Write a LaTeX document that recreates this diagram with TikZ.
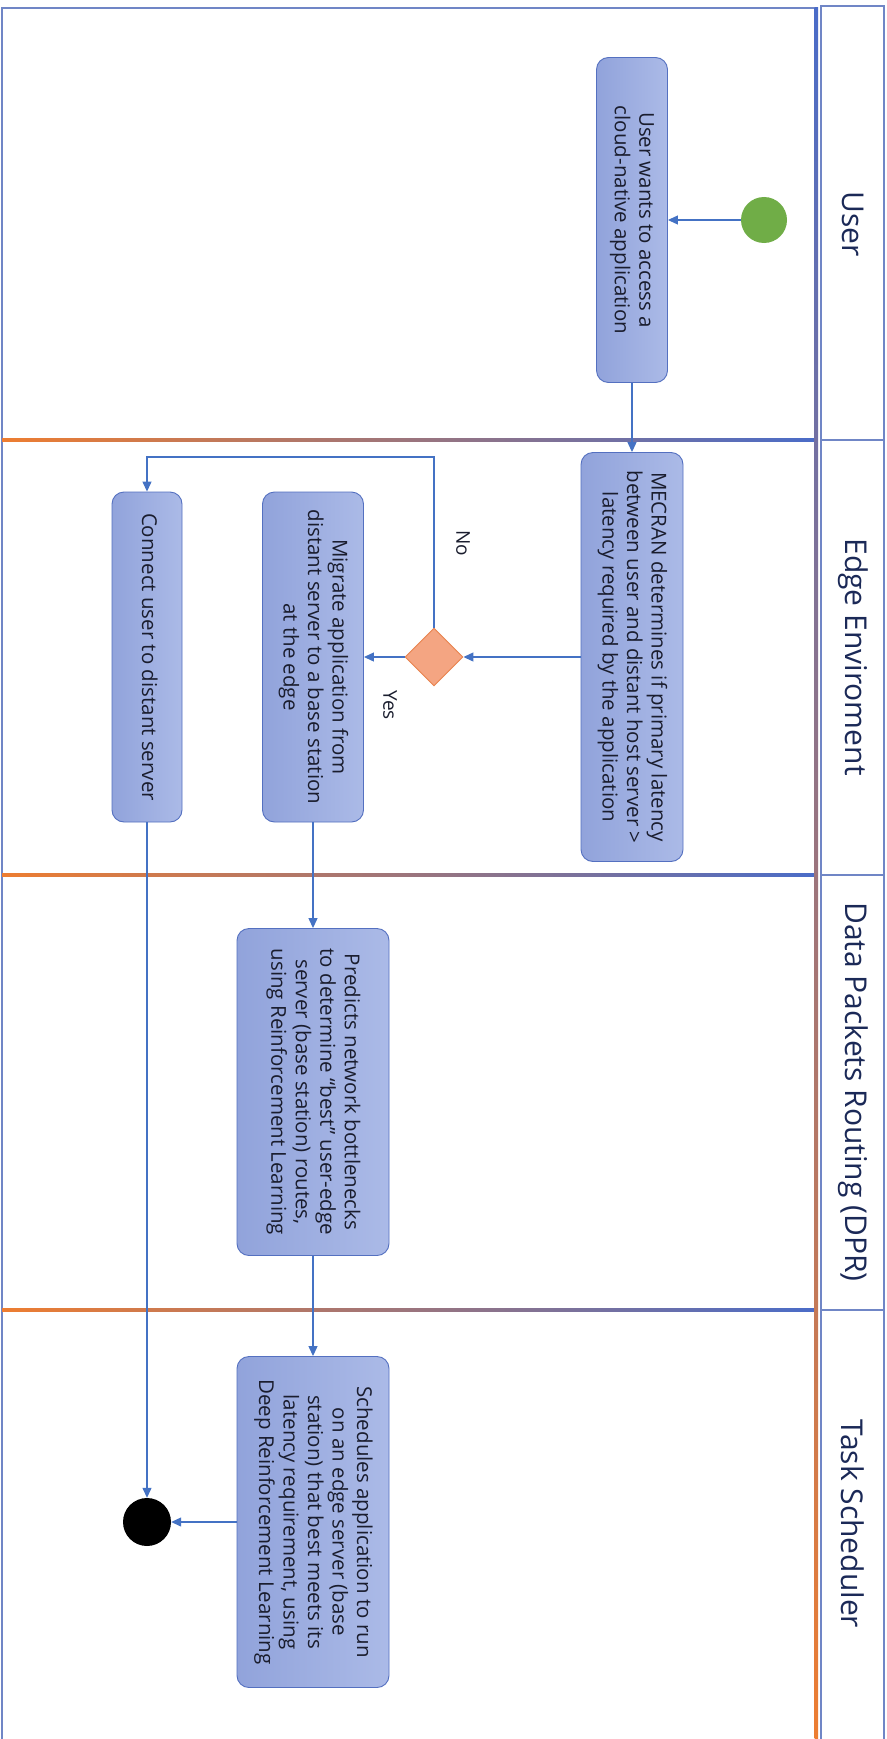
\documentclass[tikz,border=0pt]{standalone}
\usepackage{fontspec}
\setmainfont{Open Sans}
\usepackage{graphicx}
\usetikzlibrary{arrows.meta,shapes.geometric}

\definecolor{flowblue}{HTML}{4472C4}
\definecolor{laneblue}{HTML}{4A6CC8}
\definecolor{laneorange}{HTML}{ED7D31}
\definecolor{framecol}{HTML}{7086C6}
\definecolor{boxedge}{HTML}{5470C0}
\definecolor{boxdark}{HTML}{91A3DB}
\definecolor{boxlight}{HTML}{ABBAE7}
\definecolor{hdrtext}{HTML}{1B2957}
\definecolor{acttext}{HTML}{1A1D2E}
\definecolor{decfill}{HTML}{F4A582}
\definecolor{decedge}{HTML}{E8834E}
\definecolor{startgreen}{HTML}{70AD47}

% multi-line text turned to read from top to bottom
\newcommand{\vtext}[1]{\rotatebox{-90}{\begin{tabular}{@{}c@{}}#1\end{tabular}}}

\begin{document}
\begin{tikzpicture}[x=1pt,y=-1pt,
  frame/.style={draw=framecol,line width=1.1pt},
  hdr/.style={rotate=-90,text=hdrtext,font=\fontsize{30}{36}\selectfont},
  act/.style={draw=boxedge,line width=0.9pt,rounded corners=12pt,
    left color=boxdark,right color=boxlight,inner sep=0pt,text=acttext,
    font=\fontsize{20.5}{24.5}\selectfont},
  dec/.style={diamond,draw=decedge,fill=decfill,line width=0.9pt,
    minimum width=58pt,minimum height=58pt,inner sep=0pt},
  startnode/.style={circle,fill=startgreen,minimum size=46pt,inner sep=0pt},
  endnode/.style={circle,fill=black,minimum size=48pt,inner sep=0pt},
  flow/.style={draw=flowblue,line width=1.2pt,-{Triangle[length=10pt,width=9pt]}},
  lbl/.style={rotate=-90,text=acttext,font=\fontsize{19}{23}\selectfont}]

\useasboundingbox (0,0) rectangle (886,1739);
\fill[white] (0,0) rectangle (886,1739);

% swimlane frame
\draw[frame] (2,1739) -- (2,8) -- (816,8);
\draw[frame] (821,1739) -- (821,6) -- (884,6) -- (884,1739);
\foreach \yy in {440,875,1310}{
  \draw[frame] (821,\yy) -- (884,\yy);
  \shade[left color=laneorange,right color=laneblue] (2,\yy-1.8) rectangle (816,\yy+1.8);
}
\shade[top color=laneblue,bottom color=laneorange] (814.5,8) rectangle (818,1739);

% lane headers
\node[hdr] (hUser) at (853,224) {User};
\node[hdr] (hEdge) at (853,657) {Edge Enviroment};
\node[hdr] (hDPR)  at (853,1092) {Data Packets Routing (DPR)};
\node[hdr] (hTask) at (853,1524) {Task Scheduler};

% activities
\node[startnode] (start) at (764,220) {};
\node[act,minimum width=71pt,minimum height=325pt] (b1) at (632,220)
  {\vtext{User wants to access a\\cloud-native application}};
\node[act,minimum width=102pt,minimum height=409pt] (b2) at (632,657)
  {\vtext{MECRAN determines if primary latency\\between user and distant host server >\\latency required by the application}};
\node[dec] (d1) at (434,657) {};
\node[act,minimum width=101pt,minimum height=330pt] (b3) at (313,657)
  {\vtext{Migrate application from\\distant server to a base station\\at the edge}};
\node[act,minimum width=70pt,minimum height=330pt] (b4) at (147,657)
  {\vtext{Connect user to distant server}};
\node[act,minimum width=152pt,minimum height=327pt] (b5) at (313,1092)
  {\vtext{Predicts network bottlenecks\\to determine “best” user-edge\\server (base station) routes,\\using Reinforcement Learning}};
\node[act,minimum width=152pt,minimum height=331pt] (b6) at (313,1522)
  {\vtext{Schedules application to run\\on an edge server (base\\station) that best meets its\\latency requirement, using\\Deep Reinforcement Learning}};
\node[endnode] (stop) at (147,1522) {};

% connectors
\coordinate (noturn) at (434,457);
\draw[flow] (start.west) -- (b1.east |- start.west);
\draw[flow] (b1.south) -- (b2.north);
\draw[flow] (b2.west) -- (d1.east);
\draw[flow] (d1.west) -- (b3.east);
\draw[flow] (d1.north) -- (noturn) -| (b4.north);
\draw[flow] (b3.south) -- (b5.north);
\draw[flow] (b5.south) -- (b6.north);
\draw[flow] (b4.south) -- (stop.north);
\draw[flow] (b6.west) -- (stop.east);

\node[lbl] (lNo)  at (463,543) {No};
\node[lbl] (lYes) at (390,705) {Yes};
\end{tikzpicture}
\end{document}
